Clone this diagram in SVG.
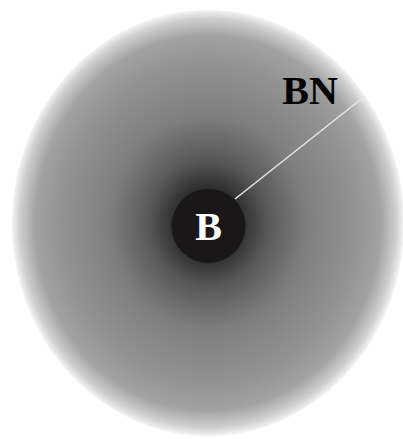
<svg xmlns="http://www.w3.org/2000/svg" width="403" height="439" viewBox="0 0 403 439">
<defs>
<radialGradient id="g" cx="0.5" cy="0.5" r="0.5" fx="0.5" fy="0.5">
<stop offset="0" stop-color="#0a0a0a"/>
<stop offset="0.12" stop-color="#1e1e1e"/>
<stop offset="0.3" stop-color="#585858"/>
<stop offset="0.5" stop-color="#7e7e7e"/>
<stop offset="0.75" stop-color="#929292"/>
<stop offset="0.88" stop-color="#a2a2a2"/>
<stop offset="0.96" stop-color="#cfcfcf"/>
<stop offset="1" stop-color="#f4f4f4"/>
</radialGradient>
<style>
.lbl{font-family:"Liberation Serif","Times New Roman",serif;font-weight:bold;font-size:40px;text-anchor:middle}
</style>
</defs>
<rect width="403" height="439" fill="#fff"/>
<g id="field">
<ellipse cx="208" cy="223" rx="196" ry="213" fill="url(#g)"/>
</g>
<g id="connectors">
<line x1="235" y1="199" x2="365" y2="96" stroke="#e6e6e6" stroke-width="1.5"/>
</g>
<g id="core">
<circle cx="208.5" cy="226" r="37" fill="#191717"/>
<text class="lbl" x="208.5" y="240" fill="#fff">B</text>
</g>
<g id="bn-label">
<text class="lbl" x="310" y="104" fill="#000">BN</text>
</g>
</svg>
